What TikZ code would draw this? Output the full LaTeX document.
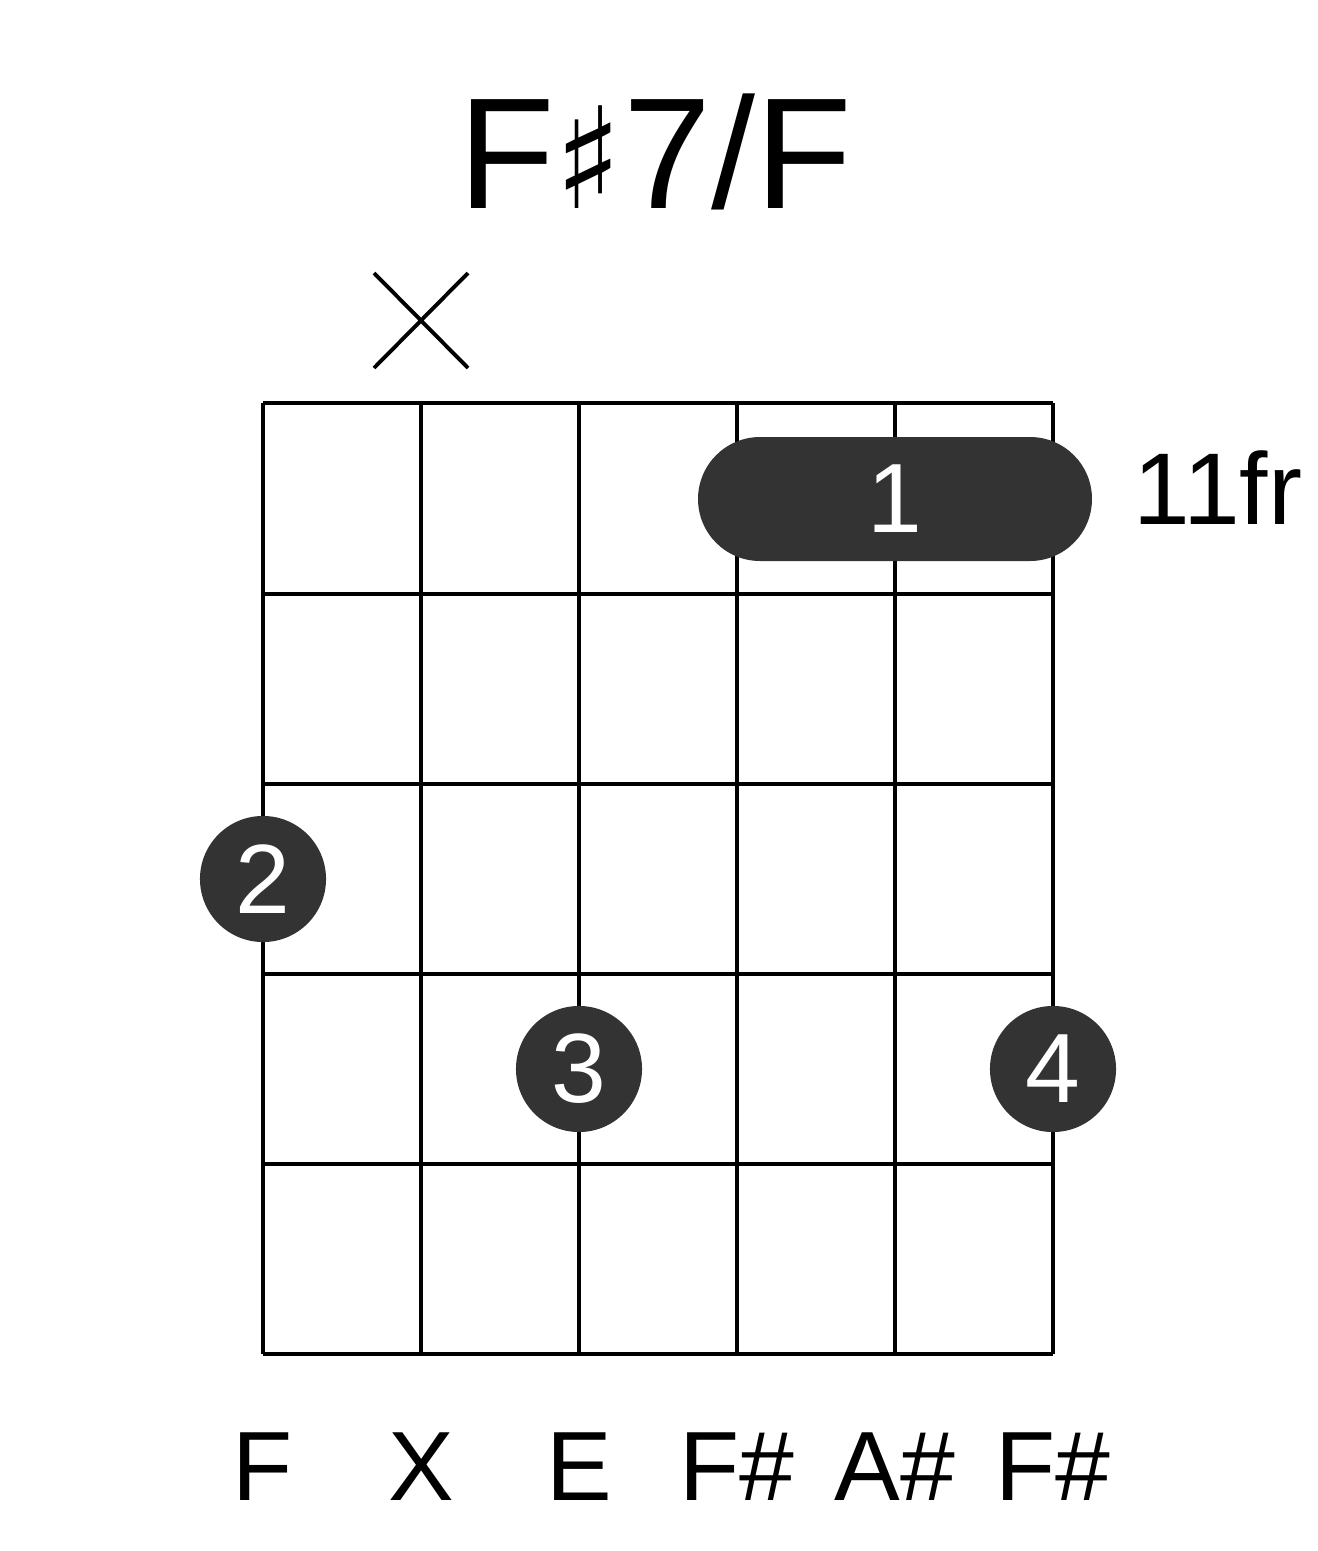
\documentclass[tikz,border=0pt]{standalone}
\usepackage{fontspec}
\setmainfont{Liberation Sans}
\newfontfamily\symfont{DejaVu Sans}
\definecolor{dot}{HTML}{333333}
\begin{document}
\begin{tikzpicture}[x=0.01cm,y=-0.01cm,
  grid/.style={line width=1.2pt,black},
  fing/.style={circle,fill=dot,minimum size=1.26cm,inner sep=0pt,text=white,font=\fontsize{28}{28}\selectfont},
  lab/.style={font=\fontsize{28}{28}\selectfont}]
\useasboundingbox (0,0) rectangle (1317,1551);
\foreach \x in {263,421,579,737,895,1053} \draw[grid] (\x,403) -- (\x,1354);
\foreach \y in {403,594,784,974,1164,1354} \draw[grid] (263,\y) -- (1053,\y);
\node[font=\fontsize{45}{45}\selectfont] (title) at (655,152) {F{\symfont\fontsize{40}{40}\selectfont ♯}7/F};
\draw[line width=1.1pt] (374,273) -- (468,368) (468,273) -- (374,368);
\fill[dot,rounded corners=0.62cm] (698,437) rectangle (1092,561);
\node[text=white,font=\fontsize{28}{28}\selectfont] (b1) at (895,499) {1};
\node[font=\fontsize{29}{29}\selectfont] (fr) at (1218,488) {11fr};
\node[fing] (f2) at (263,879) {2};
\node[fing] (f3) at (579,1069) {3};
\node[fing] (f4) at (1053,1069) {4};
\foreach \x/\t in {263/F,421/X,579/E,737/F\#,895/A\#,1053/F\#}
  \node[lab] at (\x,1467) {\t};
\end{tikzpicture}
\end{document}
